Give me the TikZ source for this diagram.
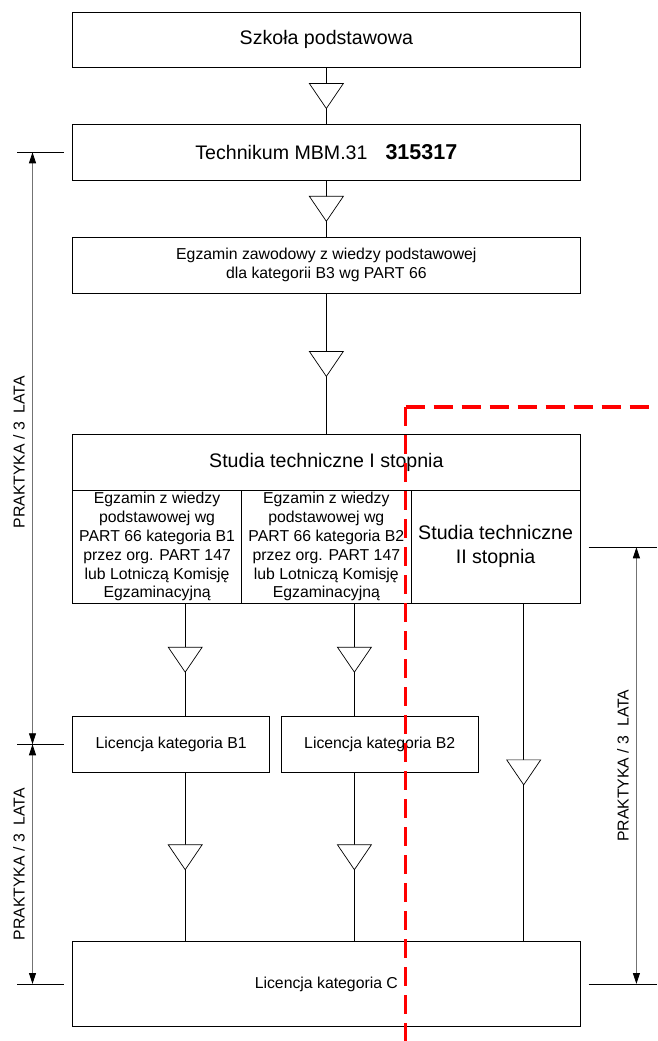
\documentclass[tikz,border=0pt]{standalone}
\usepackage{fontspec}
\setmainfont{Liberation Sans}
\usepackage{tikz}
\usetikzlibrary{arrows.meta,positioning,calc,decorations.markings}

\newcommand{\duzy}{\fontsize{19.6}{24}\selectfont}
\newcommand{\maly}{\fontsize{15.8}{18.9}\selectfont}

\tikzset{
    box/.style={draw, line width=0.8pt, inner sep=0pt, align=center, minimum width=507.7pt},
    cell/.style={draw, line width=0.8pt, inner sep=0pt, align=center, minimum width=169.2pt, minimum height=112.7pt},
    lic/.style={draw, line width=0.8pt, inner sep=0pt, font=\maly, minimum width=197.3pt, minimum height=56.4pt},
    flow/.style={line width=0.7pt, postaction={decorate},
        decoration={markings, mark=at position 0.5 with {\draw[line width=0.7pt, fill=white] (-12.5,-17) -- (-12.5,17) -- (12.5,0) -- cycle;}}},
    dim/.style={black!55, line width=0.8pt, <->, >={Triangle[length=11pt,width=7pt,black]}},
    tick/.style={line width=0.8pt},
    praktyka/.style={rotate=90, font=\maly, inner sep=0pt},
    redline/.style={red, line width=3.5pt, dash pattern=on 19pt off 9pt},
}

\begin{document}
\begin{tikzpicture}[x=1pt, y=-1pt]
    \useasboundingbox (0,0) rectangle (657,1041);

    % Main column
    \node[box, minimum height=55.7pt, font=\duzy] (szkola) at (326.35,39.85) {Szkoła podstawowa};
    \node[box, minimum height=56pt, font=\duzy] (technikum) at (326.35,152.3)
        {Technikum MBM.31\hspace{18pt}{\fontsize{21.5}{24}\selectfont\bfseries 315317}};
    \node[box, minimum height=56pt, font=\maly] (egzB3) at (326.35,265.3)
        {Egzamin zawodowy z wiedzy podstawowej\\dla kategorii B3 wg PART 66};
    \node[box, minimum height=55.8pt, font=\duzy] (studiaI) at (326.35,462.4) {Studia techniczne I stopnia};

    % Cells under Studia I stopnia
    \node[cell, font=\maly] (egzB1) at (157.1,546.65)
        {Egzamin z wiedzy\\podstawowej wg\\PART 66 kategoria B1\\przez org. PART 147\\lub Lotniczą Komisję\\Egzaminacyjną};
    \node[cell, font=\maly] (egzB2) at (326.35,546.65)
        {Egzamin z wiedzy\\podstawowej wg\\PART 66 kategoria B2\\przez org. PART 147\\lub Lotniczą Komisję\\Egzaminacyjną};
    \node[cell, font=\duzy] (studiaII) at (495.6,546.65) {Studia techniczne\\II stopnia};

    % Licences
    \node[lic] (licB1) at (171.15,744.5) {Licencja kategoria B1};
    \node[lic] (licB2) at (379.75,744.5) {Licencja kategoria B2};
    \node[box, minimum height=84.6pt, font=\maly] (licC) at (326.35,984) {Licencja kategoria C};

    % Connectors with triangles
    \coordinate (k1) at (185.2,0);
    \coordinate (k2) at (354.4,0);
    \coordinate (k3) at (523.7,0);
    \draw[flow] (szkola.south) -- (technikum.north);
    \draw[flow] (technikum.south) -- (egzB3.north);
    \draw[flow] (egzB3.south) -- (studiaI.north);
    \draw[flow] (egzB1.south -| k1) -- (licB1.north -| k1);
    \draw[flow] (egzB2.south -| k2) -- (licB2.north -| k2);
    \draw[flow] (licB1.south -| k1) -- (licC.north -| k1);
    \draw[flow] (licB2.south -| k2) -- (licC.north -| k2);
    \draw[flow] (studiaII.south -| k3) -- (licC.north -| k3);

    % Dimension lines
    \coordinate (dL1) at (32.5,152.3);
    \coordinate (dL2) at (32.5,744.3);
    \coordinate (dL3) at (32.5,984);
    \coordinate (dR1) at (636.4,547.3);
    \coordinate (dR2) at (636.4,984);
    \foreach \d in {dL1,dL2,dL3}
        \draw[tick] ([xshift=-15.2pt]\d) -- ([xshift=31.8pt]\d);
    \foreach \d in {dR1,dR2}
        \draw[tick] ([xshift=-47.8pt]\d) -- ([xshift=20.6pt]\d);
    \draw[dim] (dL1) -- (dL2);
    \draw[dim] (dL2) -- (dL3);
    \draw[dim] (dR1) -- (dR2);
    \node[praktyka] (labL1) at ($(dL1)!0.5!(dL2)+(-13.5,4)$) {PRAKTYKA / 3\ \ LATA};
    \node[praktyka] (labL2) at ($(dL2)!0.5!(dL3)+(-13.5,0)$) {PRAKTYKA / 3\ \ LATA};
    \node[praktyka] (labR) at ($(dR1)!0.5!(dR2)+(-13.4,0)$) {PRAKTYKA / 3\ \ LATA};

    % Red dashed border
    \coordinate (rog) at (405.7,407);
    \coordinate (rogE) at (657,407);
    \coordinate (rogS) at (405.7,1041);
    \draw[redline] (rog) -- (rogE);
    \draw[redline] (rog) -- (rogS);
\end{tikzpicture}
\end{document}
